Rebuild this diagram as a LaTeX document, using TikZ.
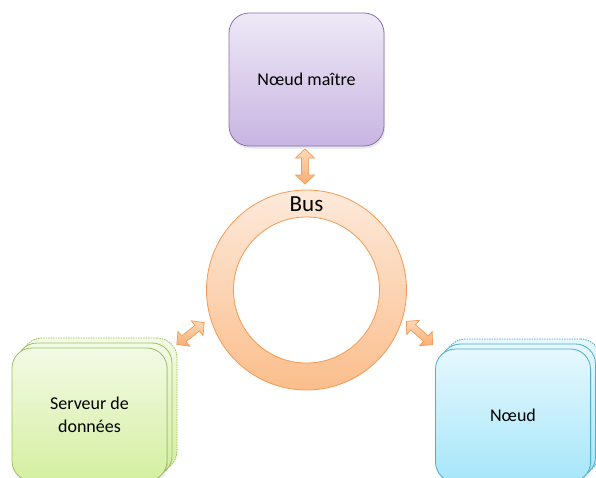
\documentclass[tikz,border=0pt]{standalone}
\usepackage{fontspec}
\setmainfont{Carlito}
\usetikzlibrary{shadows}
\definecolor{mtop}{HTML}{EEE9F6}
\definecolor{mbot}{HTML}{C8B4E2}
\definecolor{mborder}{HTML}{8A70AE}
\definecolor{gtop}{HTML}{F3FAE6}
\definecolor{gbot}{HTML}{D4EFA0}
\definecolor{gborder}{HTML}{9CC05E}
\definecolor{btop}{HTML}{E6F8FE}
\definecolor{bbot}{HTML}{A6E6F9}
\definecolor{bborder}{HTML}{4FAFC8}
\definecolor{rtop}{HTML}{FDEADB}
\definecolor{rbot}{HTML}{FBBE8C}
\definecolor{rborder}{HTML}{F39A55}
\definecolor{atop}{HTML}{FDD9B8}
\definecolor{abot}{HTML}{FAAE74}
\tikzset{
  box/.style={rounded corners=20pt, minimum width=155pt, minimum height=133pt,
    line width=0.8pt, font=\fontsize{18}{23}\selectfont, align=center, inner sep=0pt},
  softshadow/.style={drop shadow={opacity=0.18, shadow xshift=1pt, shadow yshift=-2.5pt}},
  masterbox/.style={box, draw=mborder, top color=mtop, bottom color=mbot, softshadow},
  greenbox/.style={box, draw=gborder, top color=gtop, bottom color=gbot},
  bluebox/.style={box, draw=bborder, top color=btop, bottom color=bbot},
  backbox/.style={dashed, dash pattern=on 1.5pt off 1pt},
  ringstyle/.style={top color=rtop, bottom color=rbot, draw=rborder, line width=0.8pt},
  arrowstyle/.style={top color=atop, bottom color=abot, draw=rborder, line width=0.7pt, line join=miter},
  pics/dbl/.style={code={
    \path[arrowstyle] (-17.5,0) -- (-8.5,9.5) -- (-8.5,3.6) -- (8.5,3.6) -- (8.5,9.5)
      -- (17.5,0) -- (8.5,-9.5) -- (8.5,-3.6) -- (-8.5,-3.6) -- (-8.5,-9.5) -- cycle;
  }}
}
\begin{document}
\begin{tikzpicture}[x=1pt,y=-1pt]
\useasboundingbox (0,0) rectangle (596,477);
\begin{scope}
\clip (0,0) rectangle (596,477);
% master node
\node[masterbox] (master) at (306.5,79.5) {Nœud maître};
% ring
\path[ringstyle, even odd rule] (306.5,290) circle[radius=100] (306.5,290) circle[radius=73];
\node[font=\fontsize{23}{27}\selectfont, inner sep=0pt] (bus) at (306.5,204) {Bus};
% green stack
\node[greenbox, backbox] (g3) at (99.5,404.5) {};
\node[greenbox] (g2) at (94.5,409.5) {};
\node[greenbox, softshadow] (serveur) at (89.5,414.5) {Serveur de\\données};
% blue stack
\node[bluebox, backbox] (b3) at (523,405.5) {};
\node[bluebox] (b2) at (518,410.5) {};
\node[bluebox, softshadow] (noeud) at (513,415.5) {Nœud};
% arrows
\pic[rotate=90] (atop) at (305,166.5) {dbl};
\pic[rotate=38.5] (aleft) at (190.5,333.5) {dbl};
\pic[rotate=-41.5] (aright) at (419.5,333) {dbl};
\end{scope}
\end{tikzpicture}
\end{document}
